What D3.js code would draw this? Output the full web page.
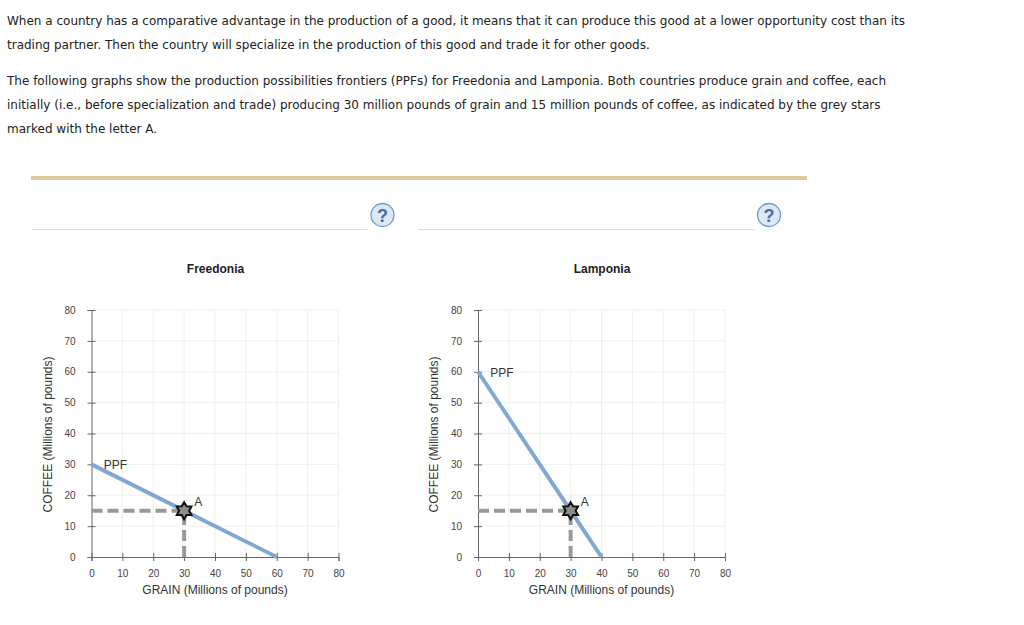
<!DOCTYPE html>
<html>
<head>
<meta charset="utf-8">
<script src="https://cdn.jsdelivr.net/npm/d3@7"></script>
<style>
  body { margin: 0; background: #fff; }
  svg { display: block; }
  text { font-family: "Liberation Sans", Arial, sans-serif; }
  .intro { font-family: "DejaVu Sans", Verdana, sans-serif; font-size: 12px; fill: #222; }
</style>
</head>
<body>
<svg id="chart" width="1024" height="625"></svg>
<script>
const introLines = [
  "When a country has a comparative advantage in the production of a good, it means that it can produce this good at a lower opportunity cost than its",
  "trading partner. Then the country will specialize in the production of this good and trade it for other goods.",
  "The following graphs show the production possibilities frontiers (PPFs) for Freedonia and Lamponia. Both countries produce grain and coffee, each",
  "initially (i.e., before specialization and trade) producing 30 million pounds of grain and 15 million pounds of coffee, as indicated by the grey stars",
  "marked with the letter A."
];
const introY = [25, 49, 85, 109, 133];

const ticks = [0, 10, 20, 30, 40, 50, 60, 70, 80];
const countries = ["Freedonia", "Lamponia"];
const maxGrain = [60, 40];
const maxCoffee = [30, 60];
const pointA = [30, 15];
const ppfLabelAt = [[4, 30], [4, 60]];

const svg = d3.select("#chart");

svg.selectAll("text.intro")
  .data(introLines)
  .join("text")
  .attr("class", "intro")
  .attr("x", 7)
  .attr("y", (d, i) => introY[i])
  .text(d => d);

// divider
svg.append("rect").attr("x", 31).attr("y", 176).attr("width", 776).attr("height", 4).attr("fill", "#d9cb9e");

function helpIcon(cx, cy) {
  svg.append("circle").attr("cx", cx).attr("cy", cy).attr("r", 11.5)
    .attr("fill", "#dfe8f2").attr("stroke", "#6f9ac4").attr("stroke-width", 1.3);
  svg.append("text").attr("x", cx).attr("y", cy + 6.5).attr("text-anchor", "middle")
    .attr("font-size", 18).attr("font-weight", "bold").attr("fill", "#3f6fa5").text("?");
}

const starPath = d3.lineRadial().curve(d3.curveLinearClosed)(
  d3.range(12).map(i => [i * Math.PI / 6, i % 2 ? 5 : 8.5])
);

function drawPanel(i, left) {
  const g = svg.append("g");
  const x = d3.scaleLinear().domain([0, 80]).range([left, left + 247]);
  const y = d3.scaleLinear().domain([0, 80]).range([557, 310]);

  // answer line above the panel
  g.append("line").attr("x1", left - 60).attr("x2", left + 276).attr("y1", 229.5).attr("y2", 229.5).attr("stroke", "#ddd");
  helpIcon(left + 291, 215);

  g.append("text").attr("x", left + 124).attr("y", 273).attr("text-anchor", "middle")
    .attr("font-size", 12).attr("font-weight", "bold").attr("fill", "#222").text(countries[i]);

  // grid
  g.append("g").selectAll("line").data(ticks.slice(1)).join("line")
    .attr("x1", d => x(d)).attr("x2", d => x(d)).attr("y1", y(0)).attr("y2", y(80)).attr("stroke", "#efefef");
  g.append("g").selectAll("line").data(ticks.slice(1)).join("line")
    .attr("x1", x(0)).attr("x2", x(80)).attr("y1", d => y(d)).attr("y2", d => y(d)).attr("stroke", "#efefef");

  // axes
  const xAxis = g.append("g").attr("transform", `translate(0,${y(0)})`)
    .call(d3.axisBottom(x).tickValues(ticks).tickSize(4).tickPadding(9));
  const yAxis = g.append("g").attr("transform", `translate(${x(0)},0)`)
    .call(d3.axisLeft(y).tickValues(ticks).tickSize(4).tickPadding(12));
  [xAxis, yAxis].forEach(a => {
    a.select(".domain").attr("stroke", "#666");
    a.selectAll(".tick line").attr("stroke", "#666");
    a.selectAll("text").attr("font-size", 10).attr("fill", "#444").style("font-family", '"Liberation Sans", Arial, sans-serif');
  });
  xAxis.selectAll(".tick line").attr("y1", -4).attr("y2", 4);
  yAxis.selectAll(".tick line").attr("x1", -4).attr("x2", 4);

  g.append("text").attr("x", left + 123.5).attr("y", 594).attr("text-anchor", "middle")
    .attr("font-size", 12).attr("fill", "#333").text("GRAIN (Millions of pounds)");
  g.append("text").attr("transform", `translate(${left - 40},${y(40) + 1}) rotate(-90)`).attr("text-anchor", "middle")
    .attr("font-size", 12).attr("fill", "#333").text("COFFEE (Millions of pounds)");

  // PPF
  g.append("line")
    .attr("x1", x(0)).attr("y1", y(maxCoffee[i]))
    .attr("x2", x(maxGrain[i])).attr("y2", y(0))
    .attr("stroke", "#7fa9d3").attr("stroke-width", 4);
  g.append("text").attr("x", x(ppfLabelAt[i][0])).attr("y", y(ppfLabelAt[i][1]) + 5)
    .attr("font-size", 12).attr("fill", "#333").text("PPF");

  // dashed guides to point A
  g.append("line").attr("x1", x(0)).attr("x2", x(pointA[0])).attr("y1", y(pointA[1])).attr("y2", y(pointA[1]))
    .attr("stroke", "#999").attr("stroke-width", 4).attr("stroke-dasharray", "11 5");
  g.append("line").attr("x1", x(pointA[0])).attr("x2", x(pointA[0])).attr("y1", y(0)).attr("y2", y(pointA[1]))
    .attr("stroke", "#999").attr("stroke-width", 4).attr("stroke-dasharray", "11 5");

  // star
  g.append("path").attr("d", starPath)
    .attr("transform", `translate(${x(pointA[0])},${y(pointA[1])})`)
    .attr("fill", "#8c8c8c").attr("stroke", "#111").attr("stroke-width", 2);
  g.append("text").attr("x", x(pointA[0]) + 10).attr("y", y(pointA[1]) - 5)
    .attr("font-size", 12).attr("fill", "#333").text("A");
}

drawPanel(0, 91.5);
drawPanel(1, 478);
</script>
</body>
</html>
